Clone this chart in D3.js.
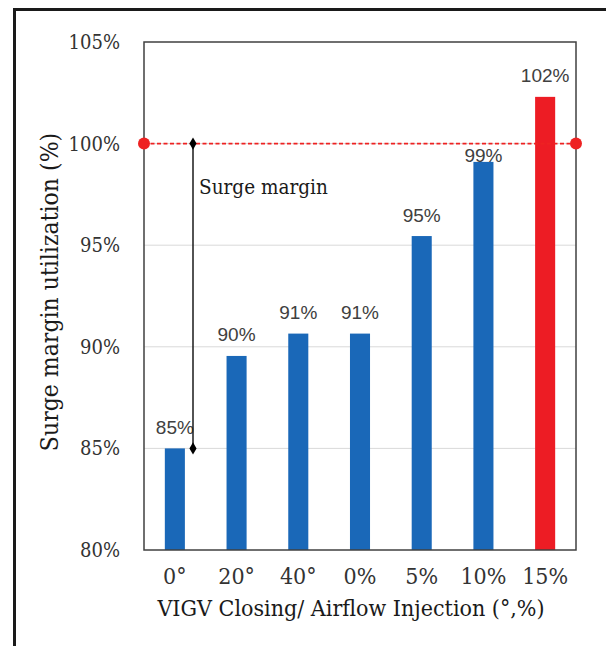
<!DOCTYPE html>
<html><head><meta charset="utf-8">
<script src="https://cdn.jsdelivr.net/npm/d3@7"></script>
<style>body{margin:0;background:#fff}</style>
</head><body>
<svg id="c" width="606" height="646"></svg>
<script>
const categories = ["0°","20°","40°","0%","5%","10%","15%"];
const values = [85.0, 89.55, 90.65, 90.65, 95.45, 99.1, 102.3];
const valueLabels = ["85%","90%","91%","91%","95%","99%","102%"];
const barColors = ["#1a68b8","#1a68b8","#1a68b8","#1a68b8","#1a68b8","#1a68b8","#ed1c24"];
const yTicks = [80,85,90,95,100,105];
const limitValue = 100;
const marginFrom = 85, marginTo = 100;

const svg = d3.select("#c");
const L=144, R=576, T=42, B=550;
const serif = "'DejaVu Serif Condensed','DejaVu Serif',serif";
const sans = "'Liberation Sans', Arial, sans-serif";

// outer frame
svg.append("path").attr("d","M14.5,646 L14.5,9.5 L606,9.5").attr("fill","none").attr("stroke","#1a1a1a").attr("stroke-width",3);

const x = d3.scaleBand().domain(categories).range([L,R]).paddingInner(0.675).paddingOuter(0.3375);
const y = d3.scaleLinear().domain([80,105]).range([B,T]);

// gridlines
svg.append("g").selectAll("line").data(yTicks.filter(t=>t>80&&t<105)).join("line")
  .attr("x1",L).attr("x2",R).attr("y1",d=>y(d)).attr("y2",d=>y(d))
  .attr("stroke","#d9d9d9").attr("stroke-width",1);

// bars
svg.append("g").selectAll("rect").data(values).join("rect")
  .attr("x",(d,i)=>x(categories[i])).attr("width",x.bandwidth())
  .attr("y",d=>y(d)).attr("height",d=>B-y(d)).attr("fill",(d,i)=>barColors[i]);

// plot box
svg.append("rect").attr("x",L).attr("y",T).attr("width",R-L).attr("height",B-T)
  .attr("fill","none").attr("stroke","#404040").attr("stroke-width",1.5);

// y axis labels
const yAxis = d3.axisLeft(y).tickValues(yTicks).tickSize(0).tickPadding(24).tickFormat(d=>d+"%");
const ga = svg.append("g").attr("transform",`translate(${L},0)`).call(yAxis);
ga.select(".domain").remove();
ga.selectAll("text").attr("font-family",serif).attr("font-stretch","condensed").attr("font-size",20).attr("fill","#333");

// x axis labels
const xAxis = d3.axisBottom(x).tickSize(0).tickPadding(18);
const gx = svg.append("g").attr("transform",`translate(0,${B})`).call(xAxis);
gx.select(".domain").remove();
gx.selectAll("text").attr("font-family",serif).attr("font-stretch","condensed").attr("font-size",23).attr("fill","#333");

// value labels (centre 21px above bar; pushed below the limit line if they would straddle it)
const yl = y(limitValue);
function labelCenter(d){
  let c = y(d) - 21;
  if (c - 9 < yl && c + 9 > yl) c = yl + 11.5;
  return c;
}
svg.append("g").selectAll("text").data(values).join("text")
  .attr("x",(d,i)=>x(categories[i])+x.bandwidth()/2).attr("y",d=>labelCenter(d)+6.5)
  .attr("text-anchor","middle").attr("font-family",sans).attr("font-size",19).attr("fill","#404040")
  .text((d,i)=>valueLabels[i]);

// limit line
svg.append("line").attr("x1",L).attr("x2",R).attr("y1",yl).attr("y2",yl)
  .attr("stroke","#ee2222").attr("stroke-width",1.8).attr("stroke-dasharray","4,2.5");
svg.append("g").selectAll("circle").data([L,R]).join("circle")
  .attr("cx",d=>d).attr("cy",yl).attr("r",6).attr("fill","#ee2222");

// surge margin annotation
const ax = 193;
svg.append("line").attr("x1",ax).attr("x2",ax).attr("y1",y(marginTo)).attr("y2",y(marginFrom))
  .attr("stroke","#1a1a1a").attr("stroke-width",1.5);
const sym = d3.symbol().type(d3.symbolDiamond).size(44);
svg.append("g").selectAll("path").data([marginTo,marginFrom]).join("path")
  .attr("d",sym).attr("transform",d=>`translate(${ax},${y(d)})`).attr("fill","#000");
svg.append("text").attr("x",199).attr("y",194).attr("font-family",serif).attr("font-stretch","condensed").attr("font-size",20.5)
  .attr("fill","#1a1a1a").text("Surge margin");

// axis titles
svg.append("text").attr("transform",`translate(58,292) rotate(-90)`).attr("text-anchor","middle")
  .attr("font-family",serif).attr("font-stretch","condensed").attr("font-size",24.5).attr("fill","#1a1a1a").text("Surge margin utilization (%)");
svg.append("text").attr("x",351).attr("y",616).attr("text-anchor","middle")
  .attr("font-family",serif).attr("font-stretch","condensed").attr("font-size",23).attr("fill","#1a1a1a").text("VIGV Closing/ Airflow Injection (°,%)");
</script>
</body></html>
